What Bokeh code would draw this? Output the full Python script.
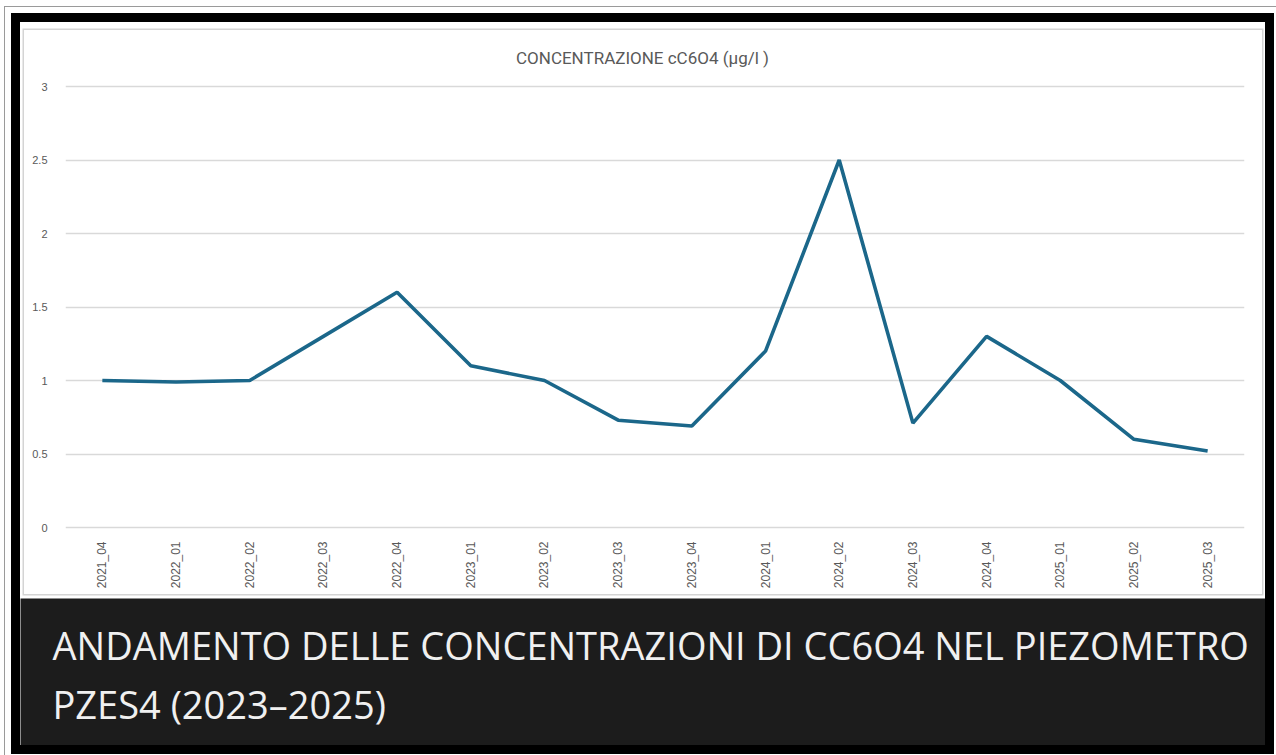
from math import pi
from bokeh.plotting import figure
from bokeh.layouts import column
from bokeh.models import Label, Range1d, FixedTicker
from bokeh.embed import file_html
from bokeh.resources import INLINE

categories = ["2021_04", "2022_01", "2022_02", "2022_03", "2022_04", "2023_01",
              "2023_02", "2023_03", "2023_04", "2024_01", "2024_02", "2024_03",
              "2024_04", "2025_01", "2025_02", "2025_03"]
values = [1.0, 0.99, 1.0, 1.3, 1.6, 1.1, 1.0, 0.73, 0.69, 1.2, 2.5, 0.71,
          1.3, 1.0, 0.6, 0.52]
y_ticks = [0, 0.5, 1, 1.5, 2, 2.5, 3]
y_tick_labels = ["0", "0.5", "1", "1.5", "2", "2.5", "3"]
chart_title = "CONCENTRAZIONE cC6O4 (µg/l )"
caption_lines = ["ANDAMENTO DELLE CONCENTRAZIONI DI CC6O4 NEL PIEZOMETRO",
                 "PZES4 (2023–2025)"]

# ---------------- chart ----------------
p = figure(width=1238, height=564, x_range=categories,
           y_range=Range1d(-0.0204, 3.347),
           output_backend="svg", toolbar_location=None, title=None,
           min_border_left=41, min_border_right=18,
           min_border_top=5, min_border_bottom=64,
           margin=(8, 3, 4, 4),
           styles={"box-shadow": "0 0 0 1.5px #d4d4d4"})
p.border_fill_color = "white"
p.background_fill_color = "white"
p.outline_line_color = None

p.line(x=categories, y=values, line_color="#1b678a", line_width=3.6)

for ax in (p.xaxis[0], p.yaxis[0]):
    ax.axis_line_color = None
    ax.major_tick_line_color = None
    ax.minor_tick_line_color = None
    ax.major_label_text_color = "#595959"
    ax.major_label_text_font = "Liberation Sans"

p.xaxis.major_label_orientation = pi / 2
p.xaxis.major_label_standoff = 5
p.xaxis.major_label_text_font_size = "12px"

p.yaxis.ticker = FixedTicker(ticks=y_ticks)
p.yaxis.major_label_overrides = {t: s for t, s in zip(y_ticks, y_tick_labels)}
p.yaxis.major_label_standoff = 12
p.yaxis.major_label_text_font_size = "11px"

p.xgrid.grid_line_color = None
p.ygrid.grid_line_color = "#d9d9d9"
p.ygrid.grid_line_width = 1.3
p.ygrid.ticker = FixedTicker(ticks=y_ticks)

p.add_layout(Label(x=577, y=473, x_units="screen", y_units="screen",
                   text=chart_title, text_align="center", text_baseline="middle",
                   text_font="Roboto", text_font_size="17px",
                   text_color="#595959"))

# ---------------- caption ----------------
c = figure(frame_width=1245, frame_height=147,
           x_range=Range1d(0, 1), y_range=Range1d(0, 1),
           output_backend="svg", toolbar_location=None, title=None,
           min_border_left=0, min_border_right=0,
           min_border_top=0, min_border_bottom=0)
c.axis.visible = False
c.grid.visible = False
c.outline_line_color = None
c.background_fill_color = "#1c1c1c"
c.border_fill_color = "#1c1c1c"

for fig in (p, c):
    try:
        fig.frame_align = False
    except AttributeError:
        pass

for txt, yy in zip(caption_lines, [101, 42]):
    c.add_layout(Label(x=32, y=yy, x_units="screen", y_units="screen",
                       text=txt, text_align="left", text_baseline="alphabetic",
                       text_font="Open Sans", text_font_size="38px",
                       text_color="#f0f0f0"))

root = column(p, c, spacing=0, margin=(22, 0, 0, 20),
              styles={"box-shadow": "0 0 0 9px black, 0 0 0 15px white, 0 0 0 16px #9a9a9a"})

open("out.html", "w").write(file_html(root, INLINE))
